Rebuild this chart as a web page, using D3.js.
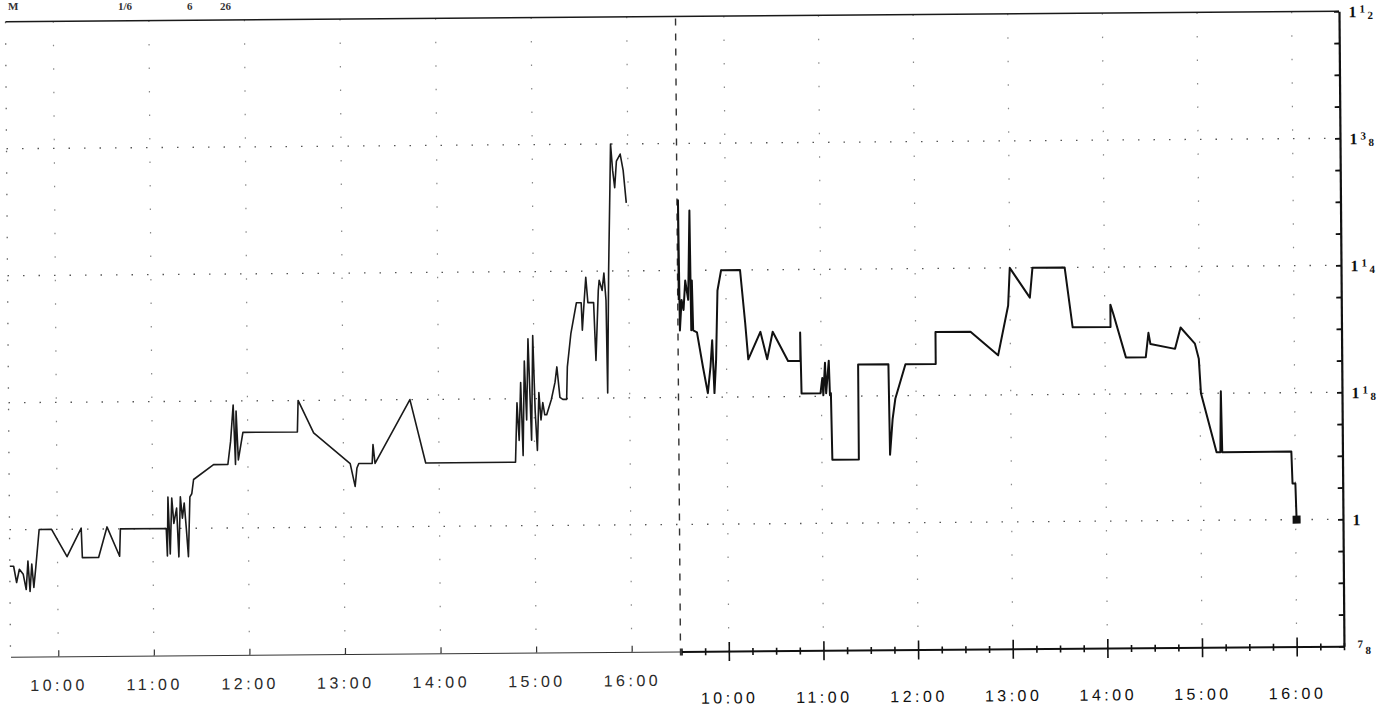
<!DOCTYPE html>
<html>
<head>
<meta charset="utf-8">
<script src="https://cdnjs.cloudflare.com/ajax/libs/d3/7.8.5/d3.min.js"></script>
<style>
  body { margin: 0; background: #fff; }
  svg { display: block; }
</style>
</head>
<body>
<div id="the_chart"></div>
<script>
// first session (left half), time in decimal hours, price in dollars
var day1Times = [9.50,9.54,9.57,9.60,9.64,9.67,9.69,9.71,9.73,9.75,9.77,9.81,9.94,10.10,10.25,10.26,10.43,10.52,10.65,10.66,11.14,
  11.15,11.16,11.18,11.20,11.22,11.25,11.27,11.29,11.31,11.33,11.35,11.37,11.39,11.41,
  11.43,11.64,11.79,11.82,11.85,11.87,11.88,11.90,11.95,12.52,12.53,12.69,
  13.07,13.12,13.14,13.16,13.30,13.31,13.33,13.70,13.86,14.80,
  14.82,14.84,14.86,14.88,14.90,14.92,14.94,14.97,14.99,15.01,15.03,15.05,15.07,15.09,15.11,15.13,
  15.18,15.22,15.24,15.27,15.30,15.34,15.35,15.39,15.45,15.50,15.51,15.53,15.55,15.57,15.63,15.65,
  15.68,15.69,15.72,15.74,15.76,15.77,15.79,15.81,15.82,15.84,15.86,15.88,15.92,15.95,15.98];
var day1Prices = [0.964,0.964,0.948,0.961,0.956,0.941,0.969,0.939,0.966,0.943,0.961,1.000,1.000,0.973,1.001,0.972,0.972,1.002,0.973,1.000,1.000,
  0.973,1.031,0.975,1.030,1.005,1.020,0.972,1.031,1.010,1.025,1.000,0.972,1.031,1.034,
  1.048,1.0625,1.0625,1.085,1.121,1.0625,1.115,1.067,1.094,1.094,1.125,1.093,
  1.0625,1.040,1.058,1.0625,1.0625,1.081,1.0625,1.125,1.0625,1.0625,
  1.121,1.084,1.141,1.069,1.162,1.104,1.184,1.084,1.187,1.112,1.074,1.131,1.104,1.121,1.109,1.109,
  1.124,1.141,1.156,1.126,1.124,1.124,1.156,1.189,1.219,1.219,1.192,1.219,1.244,1.219,1.219,1.162,
  1.231,1.241,1.231,1.248,1.221,1.130,1.251,1.332,1.375,1.349,1.332,1.358,1.365,1.349,1.317];

// second session (right half)
var day2Times = [9.50,9.50,9.51,9.53,9.55,9.57,9.60,9.62,9.63,9.64,9.65,9.69,9.75,9.80,9.83,9.85,9.87,9.89,9.91,9.95,
  10.15,10.20,10.23,10.36,10.43,10.49,10.65,10.78,10.78,10.79,10.99,
  11.01,11.02,11.04,11.05,11.08,11.09,11.10,11.11,11.39,11.39,11.71,11.72,11.75,11.78,11.89,12.21,12.21,12.58,12.87,12.98,
  13.00,13.21,13.24,13.58,13.66,14.06,14.06,14.09,14.22,14.43,14.46,14.48,14.74,14.80,14.95,14.99,
  15.01,15.17,15.21,15.22,15.23,15.96,15.97,16.00,16.01];
var day2Prices = [1.221,1.319,1.191,1.221,1.211,1.240,1.221,1.309,1.191,1.240,1.191,1.189,1.155,1.129,1.155,1.181,1.129,1.162,1.230,1.250,
  1.250,1.198,1.162,1.189,1.162,1.189,1.160,1.160,1.188,1.128,1.128,
  1.143,1.126,1.158,1.128,1.160,1.126,1.128,1.0625,1.0625,1.156,1.156,1.067,1.102,1.122,1.156,1.156,1.1875,1.1875,1.164,1.213,
  1.250,1.2205,1.250,1.250,1.191,1.191,1.213,1.204,1.161,1.161,1.185,1.174,1.169,1.190,1.174,1.159,
  1.125,1.067,1.067,1.127,1.067,1.067,1.0355,1.0355,1.000];

var hourTicks = [10, 11, 12, 13, 14, 15, 16];
var hourLabels = ["10:00", "11:00", "12:00", "13:00", "14:00", "15:00", "16:00"];
var priceTicks = [1.5, 1.375, 1.25, 1.125, 1, 0.875];
var priceLabels = ["1 1/2", "1 3/8", "1 1/4", "1 1/8", "1", "7/8"];
var headerTexts = ["M", "1/6", "6", "26"];
var headerPos = [8, 118, 187, 220];

var W = 1400, H = 708;

var svg = d3.select("#the_chart").append("svg")
  .attr("width", W)
  .attr("height", H);

// scanned page is slightly skewed
var page = svg.append("g").attr("transform", "rotate(-0.45,674,334)");

var x1 = d3.scaleLinear().domain([9.5, 16.5]).range([8, 677]);
var x2 = d3.scaleLinear().domain([9.5, 16.5]).range([679, 1341.5]);
var y = d3.scaleLinear().domain([0.875, 1.5]).range([651.5, 16.5]);

var day1 = day1Times.map(function(t, i) { return {t: t, v: day1Prices[i]}; });
var day2 = day2Times.map(function(t, i) { return {t: t, v: day2Prices[i]}; });

// header line at the page top
svg.append("g")
  .selectAll("text")
  .data(headerTexts)
  .enter()
  .append("text")
  .attr("x", function(d, i) { return headerPos[i]; })
  .attr("y", 10)
  .style("font-family", "Liberation Serif")
  .style("font-size", "11px")
  .style("font-weight", "bold")
  .attr("fill", "#333")
  .text(function(d) { return d; });

// dotted grid
var grid = page.append("g").attr("id", "grid");

grid.selectAll("line.h")
  .data(priceTicks.slice(1, 5))
  .enter()
  .append("line")
  .attr("class", "h")
  .attr("x1", 8).attr("x2", 1341)
  .attr("y1", function(d) { return y(d); })
  .attr("y2", function(d) { return y(d); })
  .style("stroke", "#555")
  .style("stroke-width", "1.3px")
  .style("stroke-dasharray", "1.5,14");

grid.selectAll("line.v1")
  .data(hourTicks)
  .enter()
  .append("line")
  .attr("class", "v1")
  .attr("x1", function(d) { return x1(d); })
  .attr("x2", function(d) { return x1(d); })
  .attr("y1", y(1.5)).attr("y2", y(0.875))
  .style("stroke", "#888")
  .style("stroke-width", "1.2px")
  .style("stroke-dasharray", "1.5,22");

grid.selectAll("line.v2")
  .data(hourTicks)
  .enter()
  .append("line")
  .attr("class", "v2")
  .attr("x1", function(d) { return x2(d); })
  .attr("x2", function(d) { return x2(d); })
  .attr("y1", y(1.5)).attr("y2", y(0.875))
  .style("stroke", "#888")
  .style("stroke-width", "1.2px")
  .style("stroke-dasharray", "1.5,22");

// left edge, dotted
grid.append("line")
  .attr("x1", 8).attr("x2", 8)
  .attr("y1", y(1.5)).attr("y2", y(0.875))
  .style("stroke", "#666")
  .style("stroke-width", "1.3px")
  .style("stroke-dasharray", "1.5,20");

// divider between the two sessions
grid.append("line")
  .attr("x1", x1(16.5) + 1).attr("x2", x1(16.5) + 1)
  .attr("y1", y(1.5) + 2).attr("y2", y(0.875) + 8)
  .style("stroke", "#333")
  .style("stroke-width", "1.4px")
  .style("stroke-dasharray", "7,8");

// top border
page.append("line")
  .attr("x1", 8).attr("x2", 1341.5)
  .attr("y1", y(1.5)).attr("y2", y(1.5))
  .style("stroke", "#1a1a1a")
  .style("stroke-width", "1.6px");

// x axis, first session
var xAxis1 = d3.axisBottom(x1)
  .tickValues(hourTicks)
  .tickSizeInner(-6)
  .tickSizeOuter(0)
  .tickPadding(23)
  .tickFormat(function(d, i) { return hourLabels[i]; });

var xa1 = page.append("g")
  .attr("id", "xaxis1")
  .attr("transform", "translate(0," + y(0.875) + ")")
  .call(xAxis1);
xa1.select(".domain").style("stroke", "#333").style("stroke-width", "1.1px");
xa1.selectAll(".tick line").style("stroke", "#333").style("stroke-width", "1.2px");
xa1.selectAll(".tick text")
  .style("font-family", "Liberation Sans")
  .style("font-size", "16px")
  .style("letter-spacing", "3.5px")
  .attr("fill", "#2a2a2a");

// x axis, second session: quarter hour ticks, labels on the hour
var quarterTicks = d3.range(9.5, 16.51, 0.25);
var xAxis2 = d3.axisBottom(x2)
  .tickValues(quarterTicks)
  .tickSizeInner(4)
  .tickSizeOuter(0)
  .tickPadding(37)
  .tickFormat(function(d) {
    var k = hourTicks.indexOf(d);
    return k < 0 ? "" : hourLabels[k];
  });

var xa2 = page.append("g")
  .attr("id", "xaxis2")
  .attr("transform", "translate(0," + y(0.875) + ")")
  .call(xAxis2);
xa2.select(".domain").style("stroke", "#111").style("stroke-width", "2px");
xa2.selectAll(".tick line")
  .attr("y1", function(d) { return hourTicks.indexOf(d) < 0 ? -3 : -9; })
  .attr("y2", function(d) { return hourTicks.indexOf(d) < 0 ? 4 : 10; })
  .style("stroke", "#111")
  .style("stroke-width", "1.6px");
xa2.selectAll(".tick text")
  .style("font-family", "Liberation Sans")
  .style("font-size", "16px")
  .style("letter-spacing", "3.5px")
  .attr("fill", "#111");

// right price axis, ticks every 1/32 pointing inward
var yAxis = d3.axisRight(y)
  .tickValues(d3.range(0.875, 1.5001, 1 / 32))
  .tickSizeInner(-5)
  .tickSizeOuter(0)
  .tickFormat("");

var ya = page.append("g")
  .attr("id", "yaxis")
  .attr("transform", "translate(1341.5,0)")
  .call(yAxis);
ya.select(".domain").style("stroke", "#111").style("stroke-width", "2.2px");
ya.selectAll(".tick line").style("stroke", "#111").style("stroke-width", "1.8px");

// price labels written as whole number plus stacked fraction
var labels = page.append("g").attr("id", "ylabels")
  .style("font-family", "Liberation Serif")
  .style("font-weight", "bold")
  .attr("fill", "#111");

priceTicks.forEach(function(v, i) {
  var parts = priceLabels[i].split(" ");
  var whole = "", frac = "";
  if (parts.length === 2) { whole = parts[0]; frac = parts[1]; }
  else if (parts[0].indexOf("/") > 0) { frac = parts[0]; }
  else { whole = parts[0]; }
  var yy = y(v);
  if (whole) {
    labels.append("text")
      .attr("x", 1351).attr("y", yy + 6)
      .style("font-size", "16px")
      .text(whole);
  }
  if (frac) {
    var nd = frac.split("/");
    var nx = whole ? 1362 : 1355;
    labels.append("text")
      .attr("x", nx).attr("y", yy + 1.5)
      .style("font-size", "11px")
      .text(nd[0]);
    labels.append("text")
      .attr("x", nx + 8).attr("y", yy + 8)
      .style("font-size", "11px")
      .text(nd[1]);
  }
});

// price lines
var line1 = d3.line()
  .x(function(d) { return x1(d.t); })
  .y(function(d) { return y(d.v); });
var line2 = d3.line()
  .x(function(d) { return x2(d.t); })
  .y(function(d) { return y(d.v); });

page.append("path")
  .datum(day1)
  .attr("d", line1)
  .attr("fill", "none")
  .style("stroke", "#1a1a1a")
  .style("stroke-width", "1.6px")
  .style("stroke-linejoin", "round");

page.append("path")
  .datum(day2)
  .attr("d", line2)
  .attr("fill", "none")
  .style("stroke", "#111")
  .style("stroke-width", "2px")
  .style("stroke-linejoin", "round");

// closing marker
var last = day2[day2.length - 1];
page.append("rect")
  .attr("x", x2(last.t) - 4)
  .attr("y", y(last.v) - 4)
  .attr("width", 8)
  .attr("height", 8)
  .attr("fill", "#111");
</script>
</body>
</html>
